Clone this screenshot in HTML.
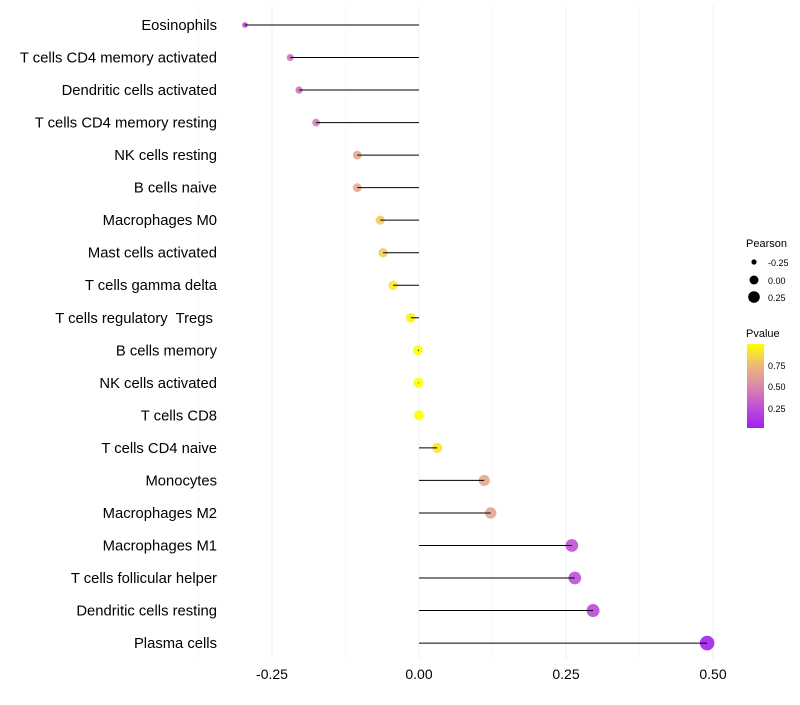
<!DOCTYPE html>
<html><head><meta charset="utf-8"><style>
body{margin:0;background:#fff;font-family:"Liberation Sans",sans-serif}
text{white-space:pre}
</style></head><body>
<svg id="c" width="800" height="700" xmlns="http://www.w3.org/2000/svg">
<defs><linearGradient id="pg" x1="0" y1="1" x2="0" y2="0">
<stop offset="0" stop-color="#A020F0"/><stop offset="0.25" stop-color="#BF50D8"/><stop offset="0.5" stop-color="#D98AAA"/><stop offset="0.75" stop-color="#EEB878"/><stop offset="1" stop-color="#FFFF00"/></linearGradient></defs>
<g id="grid"></g><g id="marks"></g><g id="labels"></g>
<g font-size="10" fill="#000">
<text x="746" y="247" font-size="11">Pearson</text>
<circle cx="754" cy="262" r="2.6"/><text x="768" y="266" font-size="9">-0.25</text>
<circle cx="754" cy="280" r="4.5"/><text x="768" y="284" font-size="9">0.00</text>
<circle cx="754" cy="297" r="5.8"/><text x="768" y="301" font-size="9">0.25</text>
</g>
<g>
<text x="746" y="337" font-size="11">Pvalue</text>
<rect x="747" y="344" width="17" height="84" fill="url(#pg)"/>
<text x="768" y="369" font-size="9">0.75</text>
<text x="768" y="390" font-size="9">0.50</text>
<text x="768" y="412" font-size="9">0.25</text>
</g>
</svg>
<script>
const categories=["Eosinophils","T cells CD4 memory activated","Dendritic cells activated","T cells CD4 memory resting","NK cells resting","B cells naive","Macrophages M0","Mast cells activated","T cells gamma delta","T cells regulatory  Tregs ","B cells memory","NK cells activated","T cells CD8","T cells CD4 naive","Monocytes","Macrophages M2","Macrophages M1","T cells follicular helper","Dendritic cells resting","Plasma cells"];
const pearson=[-0.296,-0.219,-0.204,-0.175,-0.105,-0.105,-0.066,-0.061,-0.044,-0.014,-0.002,-0.001,0.0,0.031,0.111,0.122,0.260,0.265,0.296,0.490];
const pvalue=[0.2,0.4,0.4,0.45,0.65,0.65,0.8,0.8,0.9,0.95,1,1,1,0.9,0.65,0.62,0.25,0.25,0.2,0.02];
const ticks=[-0.25,0,0.25,0.5];
const tickLabels=["-0.25","0.00","0.25","0.50"];
const NS="http://www.w3.org/2000/svg";
const x=v=>419+v*588;
const y=i=>25+i*32.53;
const stops=[[0,[160,32,240]],[0.25,[191,80,216]],[0.5,[217,138,170]],[0.75,[240,190,120]],[1,[255,255,0]]];
function col(p){for(let k=1;k<stops.length;k++){if(p<=stops[k][0]){const a=stops[k-1],b=stops[k],t=(p-a[0])/(b[0]-a[0]);return 'rgb('+a[1].map((c,j)=>Math.round(c+(b[1][j]-c)*t)).join(',')+')';}}return 'rgb(255,255,0)';}
function el(t,a,p){const e=document.createElementNS(NS,t);for(const k in a)e.setAttribute(k,a[k]);p.appendChild(e);return e;}
const g=document.getElementById('grid'),m=document.getElementById('marks'),l=document.getElementById('labels');
const minor=[-0.375,-0.125,0.125,0.375];
minor.forEach(v=>{const e=el('line',{x1:x(v),x2:x(v),y1:5,y2:660,stroke:'#f7f7f7','stroke-width':0.6},g);

});
ticks.forEach((v,i)=>{const e=el('line',{x1:x(v),x2:x(v),y1:5,y2:660,stroke:'#f1f1f1','stroke-width':1},g);


const t=el('text',{x:x(v),y:679,'text-anchor':'middle','font-size':14,fill:'#000'},l);t.textContent=tickLabels[i];

});
categories.forEach((c,i)=>{
const cy=y(i);
const r=Math.sqrt(Math.max(2.25,25+pearson[i]*58));
const ci=el('circle',{cx:x(pearson[i]),cy:cy,r:r,fill:col(pvalue[i]),'fill-opacity':0.9},m);


const ln=el('line',{x1:x(0),x2:x(pearson[i]),y1:cy,y2:cy,stroke:'#000','stroke-width':1},m);


const t=el('text',{x:217,y:cy+5,'text-anchor':'end','font-size':14.8,fill:'#000'},l);t.textContent=c;


});
</script>
</body></html>
